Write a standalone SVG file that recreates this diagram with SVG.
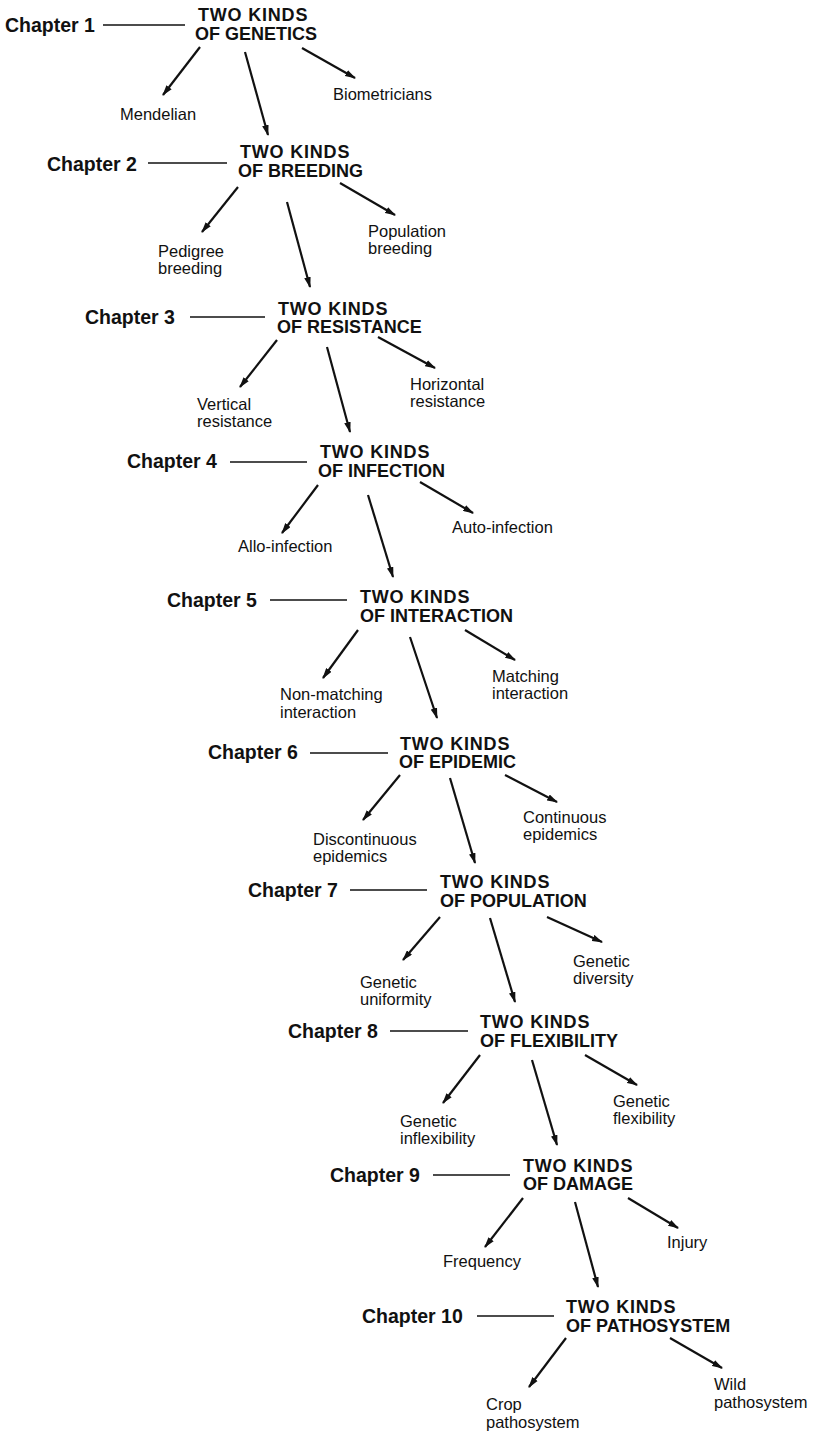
<svg xmlns="http://www.w3.org/2000/svg" width="823" height="1433" viewBox="0 0 823 1433">
<style>
.ch{font-family:"Liberation Sans",Arial,sans-serif;font-weight:bold;font-size:19.5px;fill:#111}
.t{font-family:"Liberation Sans",Arial,sans-serif;font-weight:bold;font-size:18px;fill:#111}
.tk{letter-spacing:0.8px}
.l{font-family:"Liberation Sans",Arial,sans-serif;font-size:16.5px;fill:#111}
.cl{stroke:#111;stroke-width:1.3;fill:none}
.ar{stroke:#111;stroke-width:2.2;fill:none;marker-end:url(#ah)}
</style>
<defs>
<marker id="ah" viewBox="0 0 10 6" refX="9" refY="3" markerWidth="11" markerHeight="7" markerUnits="userSpaceOnUse" orient="auto">
<path d="M0,0 L10,3 L0,6 z" fill="#111"/>
</marker>
</defs>
<rect width="823" height="1433" fill="#fff"/>
<g id="connectors">
<line class="cl" x1="103" y1="25" x2="185" y2="25"/>
<line class="ar" x1="200" y1="47" x2="163" y2="95"/>
<line class="ar" x1="245" y1="52" x2="268" y2="135"/>
<line class="ar" x1="302" y1="48" x2="355" y2="78"/>
<line class="cl" x1="148" y1="163" x2="227" y2="163"/>
<line class="ar" x1="238" y1="187" x2="202" y2="232"/>
<line class="ar" x1="287" y1="202" x2="310" y2="287"/>
<line class="ar" x1="340" y1="183" x2="395" y2="215"/>
<line class="cl" x1="190" y1="317" x2="265" y2="317"/>
<line class="ar" x1="277" y1="340" x2="240" y2="387"/>
<line class="ar" x1="327" y1="347" x2="350" y2="432"/>
<line class="ar" x1="378" y1="337" x2="435" y2="368"/>
<line class="cl" x1="230" y1="462" x2="307" y2="462"/>
<line class="ar" x1="318" y1="485" x2="282" y2="533"/>
<line class="ar" x1="368" y1="495" x2="393" y2="577"/>
<line class="ar" x1="420" y1="482" x2="473" y2="513"/>
<line class="cl" x1="270" y1="600" x2="347" y2="600"/>
<line class="ar" x1="358" y1="630" x2="323" y2="678"/>
<line class="ar" x1="410" y1="637" x2="437" y2="718"/>
<line class="ar" x1="465" y1="630" x2="515" y2="660"/>
<line class="cl" x1="310" y1="753" x2="388" y2="753"/>
<line class="ar" x1="400" y1="775" x2="363" y2="820"/>
<line class="ar" x1="450" y1="778" x2="475" y2="863"/>
<line class="ar" x1="505" y1="775" x2="557" y2="802"/>
<line class="cl" x1="350" y1="890" x2="427" y2="890"/>
<line class="ar" x1="440" y1="917" x2="403" y2="960"/>
<line class="ar" x1="490" y1="918" x2="515" y2="1002"/>
<line class="ar" x1="547" y1="917" x2="602" y2="942"/>
<line class="cl" x1="390" y1="1031" x2="468" y2="1031"/>
<line class="ar" x1="480" y1="1055" x2="443" y2="1103"/>
<line class="ar" x1="532" y1="1060" x2="557" y2="1145"/>
<line class="ar" x1="585" y1="1055" x2="637" y2="1085"/>
<line class="cl" x1="433" y1="1175" x2="510" y2="1175"/>
<line class="ar" x1="523" y1="1198" x2="485" y2="1247"/>
<line class="ar" x1="575" y1="1202" x2="598" y2="1287"/>
<line class="ar" x1="628" y1="1198" x2="678" y2="1228"/>
<line class="cl" x1="477" y1="1316" x2="554" y2="1316"/>
<line class="ar" x1="566" y1="1338" x2="529" y2="1387"/>
<line class="ar" x1="670" y1="1338" x2="722" y2="1368"/>
</g>
<g id="ch1"><text class="ch" x="5" y="32">Chapter 1</text></g>
<g id="k1"><text class="t tk" x="198" y="21">TWO KINDS</text><text class="t" x="195" y="40">OF GENETICS</text></g>
<g id="l1a"><text class="l" x="120" y="120">Mendelian</text></g>
<g id="l1b"><text class="l" x="333" y="100">Biometricians</text></g>
<g id="ch2"><text class="ch" x="47" y="171">Chapter 2</text></g>
<g id="k2"><text class="t tk" x="240" y="158">TWO KINDS</text><text class="t" x="238" y="177">OF BREEDING</text></g>
<g id="l2a"><text class="l" x="158" y="257">Pedigree</text><text class="l" x="158" y="274">breeding</text></g>
<g id="l2b"><text class="l" x="368" y="237">Population</text><text class="l" x="368" y="254">breeding</text></g>
<g id="ch3"><text class="ch" x="85" y="324">Chapter 3</text></g>
<g id="k3"><text class="t tk" x="278" y="315">TWO KINDS</text><text class="t" x="277" y="333">OF RESISTANCE</text></g>
<g id="l3a"><text class="l" x="197" y="410">Vertical</text><text class="l" x="197" y="427">resistance</text></g>
<g id="l3b"><text class="l" x="410" y="390">Horizontal</text><text class="l" x="410" y="407">resistance</text></g>
<g id="ch4"><text class="ch" x="127" y="468">Chapter 4</text></g>
<g id="k4"><text class="t tk" x="320" y="458">TWO KINDS</text><text class="t" x="318" y="477">OF INFECTION</text></g>
<g id="l4a"><text class="l" x="238" y="552">Allo-infection</text></g>
<g id="l4b"><text class="l" x="452" y="533">Auto-infection</text></g>
<g id="ch5"><text class="ch" x="167" y="607">Chapter 5</text></g>
<g id="k5"><text class="t tk" x="360" y="603">TWO KINDS</text><text class="t" x="360" y="622">OF INTERACTION</text></g>
<g id="l5a"><text class="l" x="280" y="700">Non-matching</text><text class="l" x="280" y="718">interaction</text></g>
<g id="l5b"><text class="l" x="492" y="682">Matching</text><text class="l" x="492" y="699">interaction</text></g>
<g id="ch6"><text class="ch" x="208" y="759">Chapter 6</text></g>
<g id="k6"><text class="t tk" x="400" y="750">TWO KINDS</text><text class="t" x="399" y="768">OF EPIDEMIC</text></g>
<g id="l6a"><text class="l" x="313" y="845">Discontinuous</text><text class="l" x="313" y="862">epidemics</text></g>
<g id="l6b"><text class="l" x="523" y="823">Continuous</text><text class="l" x="523" y="840">epidemics</text></g>
<g id="ch7"><text class="ch" x="248" y="897">Chapter 7</text></g>
<g id="k7"><text class="t tk" x="440" y="888">TWO KINDS</text><text class="t" x="440" y="907">OF POPULATION</text></g>
<g id="l7a"><text class="l" x="360" y="988">Genetic</text><text class="l" x="360" y="1005">uniformity</text></g>
<g id="l7b"><text class="l" x="573" y="967">Genetic</text><text class="l" x="573" y="984">diversity</text></g>
<g id="ch8"><text class="ch" x="288" y="1038">Chapter 8</text></g>
<g id="k8"><text class="t tk" x="480" y="1028">TWO KINDS</text><text class="t" x="480" y="1047">OF FLEXIBILITY</text></g>
<g id="l8a"><text class="l" x="400" y="1127">Genetic</text><text class="l" x="400" y="1144">inflexibility</text></g>
<g id="l8b"><text class="l" x="613" y="1107">Genetic</text><text class="l" x="613" y="1124">flexibility</text></g>
<g id="ch9"><text class="ch" x="330" y="1182">Chapter 9</text></g>
<g id="k9"><text class="t tk" x="523" y="1172">TWO KINDS</text><text class="t" x="523" y="1190">OF DAMAGE</text></g>
<g id="l9a"><text class="l" x="443" y="1267">Frequency</text></g>
<g id="l9b"><text class="l" x="667" y="1248">Injury</text></g>
<g id="ch10"><text class="ch" x="362" y="1323">Chapter 10</text></g>
<g id="k10"><text class="t tk" x="566" y="1313">TWO KINDS</text><text class="t" x="566" y="1332">OF PATHOSYSTEM</text></g>
<g id="l10a"><text class="l" x="486" y="1410">Crop</text><text class="l" x="486" y="1428">pathosystem</text></g>
<g id="l10b"><text class="l" x="714" y="1390">Wild</text><text class="l" x="714" y="1408">pathosystem</text></g>
</svg>
